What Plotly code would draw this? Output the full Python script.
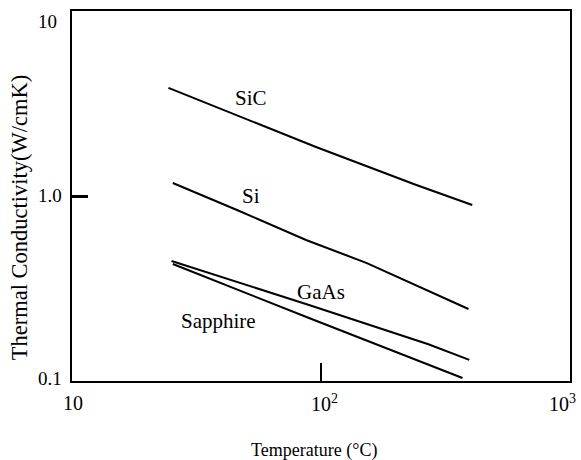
import math
import plotly.graph_objects as go

# ---- data ----
temp_sic = [24.4, 47.0, 95.5, 240, 405]
k_sic = [3.84, 2.70, 1.84, 1.15, 0.894]

temp_si = [25.4, 47.0, 87.1, 152.8, 391]
k_si = [1.175, 0.830, 0.578, 0.434, 0.245]

temp_gaas = [25.1, 89.5, 270, 394]
k_gaas = [0.445, 0.2575, 0.158, 0.130]

temp_sapphire = [25.4, 89.5, 370]
k_sapphire = [0.429, 0.219, 0.1038]

x_tick_vals = [10, 100, 1000]
x_tick_text = ["10", "10<sup>2</sup>", "10<sup>3</sup>"]
y_tick_vals = [0.1, 1, 10]
y_tick_text = ["0.1", "1.0", "10"]

labels = ["SiC", "Si", "GaAs", "Sapphire"]
label_temp = [52.5, 52.5, 100, 38.7]
label_k = [3.39, 1.0, 0.303, 0.211]

FONT = "Liberation Serif, Times New Roman, serif"

fig = go.Figure()
for xs, ys, name in [(temp_sic, k_sic, "SiC"), (temp_si, k_si, "Si"),
                     (temp_gaas, k_gaas, "GaAs"), (temp_sapphire, k_sapphire, "Sapphire")]:
    fig.add_trace(go.Scatter(x=xs, y=ys, mode="lines", name=name,
                             line=dict(color="black", width=2), showlegend=False))

annotations = []
for t, xv, yv in zip(labels, label_temp, label_k):
    annotations.append(dict(text=t, x=math.log10(xv), y=math.log10(yv), xref="x", yref="y",
                            showarrow=False, font=dict(family=FONT, size=21, color="black"),
                            xanchor="center", yanchor="middle"))

# x tick labels
x_shift = [1, 3, 8]
x_anchor = ["center", "center", "right"]
for v, t, s, a in zip(x_tick_vals, x_tick_text, x_shift, x_anchor):
    annotations.append(dict(text=t, x=math.log10(v), y=0, xref="x", yref="paper",
                            showarrow=False, font=dict(family=FONT, size=20, color="black"),
                            xanchor=a, yanchor="middle", xshift=s, yshift=-22))

# y tick labels
y_shift = [3, 1, -10]
for v, t, s in zip(y_tick_vals, y_tick_text, y_shift):
    annotations.append(dict(text=t, x=0, y=math.log10(v), xref="paper", yref="y",
                            showarrow=False, font=dict(family=FONT, size=19, color="black"),
                            xanchor="left", yanchor="middle", xshift=-36, yshift=s))

annotations.append(dict(text="Thermal Conductivity(W/cmK)", x=-0.106, y=0.443,
                        xref="paper", yref="paper", showarrow=False, textangle=-90,
                        font=dict(family=FONT, size=22.5, color="black"),
                        xanchor="center", yanchor="middle"))
annotations.append(dict(text="Temperature (°C)", x=0.485, y=-0.1865,
                        xref="paper", yref="paper", showarrow=False,
                        font=dict(family=FONT, size=18, color="black"),
                        xanchor="center", yanchor="middle"))

fig.update_layout(
    width=581, height=460, autosize=False,
    margin=dict(l=72, r=9, t=11, b=79),
    paper_bgcolor="white", plot_bgcolor="white",
    font=dict(family=FONT, color="black"),
    annotations=annotations,
    xaxis=dict(type="log", range=[1, 3], showgrid=False, zeroline=False,
               showline=True, linecolor="black", linewidth=2, mirror=True,
               tickvals=x_tick_vals, showticklabels=False,
               ticks="inside", ticklen=18, tickwidth=2, tickcolor="black"),
    yaxis=dict(type="log", range=[-1, 1], showgrid=False, zeroline=False,
               showline=True, linecolor="black", linewidth=2, mirror=True,
               tickvals=y_tick_vals, showticklabels=False,
               ticks="inside", ticklen=16, tickwidth=3, tickcolor="black"),
)

fig.write_html("out.html")
